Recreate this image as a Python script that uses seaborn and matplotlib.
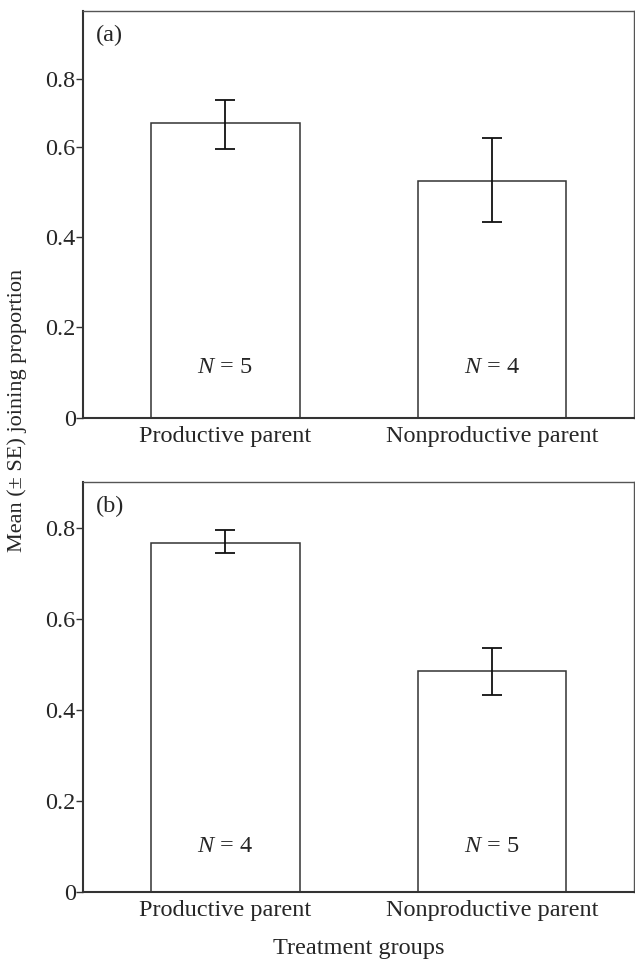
import matplotlib
matplotlib.use("Agg")
import matplotlib.pyplot as plt
import seaborn as sns
import pandas as pd

sns.set_theme(style="white")
plt.rcParams['font.family'] = ['Liberation Serif', 'DejaVu Serif']
plt.rcParams['mathtext.fontset'] = 'custom'
plt.rcParams['mathtext.it'] = 'Liberation Serif:italic'
plt.rcParams['mathtext.rm'] = 'Liberation Serif'

categories = ["Productive parent", "Nonproductive parent"]

means_a = [0.653, 0.523]
se_low_a = [0.595, 0.433]
se_high_a = [0.704, 0.620]
n_a = [5, 4]

means_b = [0.767, 0.485]
se_low_b = [0.745, 0.433]
se_high_b = [0.795, 0.535]
n_b = [4, 5]

ytick_pos_a = [0, 0.2, 0.4, 0.6, 0.75]
ytick_pos_b = [0, 0.2, 0.4, 0.6, 0.8]
ytick_labels = ["0", "0.2", "0.4", "0.6", "0.8"]
panel_labels = ["(a)", "(b)"]

FS = 17.5
W, H = 635, 959
fig = plt.figure(figsize=(W / 100, H / 100), dpi=100)

def px_axes(left, top, right, bottom):
    return fig.add_axes([left / W, 1 - bottom / H, (right - left) / W, (bottom - top) / H])

ax_a = px_axes(83.3, 11, 634, 417.7)
ax_b = px_axes(83.3, 482.3, 634, 891.7)

panels = [
    (ax_a, means_a, se_low_a, se_high_a, n_a, ytick_pos_a, 0.11),
    (ax_b, means_b, se_low_b, se_high_b, n_b, ytick_pos_b, 0.10),
]

for i, (ax, means, lo, hi, ns, yticks, ny) in enumerate(panels):
    df = pd.DataFrame({"group": categories, "mean": means})
    sns.barplot(data=df, x="group", y="mean", order=categories, ax=ax,
                width=0.558, color="white", edgecolor="#333333",
                linewidth=1.1, errorbar=None, saturation=1)
    for p in ax.patches:
        p.set_facecolor("white")
    yerr = [[m - l for m, l in zip(means, lo)], [h - m for m, h in zip(means, hi)]]
    ax.errorbar(x=list(range(len(categories))), y=means, yerr=yerr, fmt="none",
                ecolor="#111111", elinewidth=1.3, capsize=7, capthick=1.3, zorder=5)
    for j, n in enumerate(ns):
        ax.text(j, ny, r"$N$ = " + str(n), ha="center", va="center", fontsize=FS)
    ax.set_xlim(-0.531, 1.532)
    ax.set_ylim(0, 0.9)
    ax.set_yticks(yticks)
    ax.set_yticklabels(ytick_labels, fontsize=FS)
    ax.set_xticks(range(len(categories)))
    ax.set_xticklabels(categories, fontsize=FS)
    ax.set_xlabel("")
    ax.set_ylabel("")
    ax.tick_params(axis="y", direction="out", length=5, width=1.0, color="#333333", pad=0.5, left=True)
    ax.tick_params(axis="x", length=0, pad=6)
    for side in ["left", "bottom"]:
        ax.spines[side].set_color("#333333")
        ax.spines[side].set_linewidth(1.5)
    for side in ["top", "right"]:
        ax.spines[side].set_color("#555555")
        ax.spines[side].set_linewidth(1.0)
    ax.text(0.022, 0.94, panel_labels[i], transform=ax.transAxes, ha="left", va="center", fontsize=FS)

fig.text(17 / W, 1 - 410 / H, "Mean (± SE) joining proportion", rotation=90,
         ha="center", va="center", fontsize=16)
fig.text((83.3 + 634) / 2 / W, 1 - 948.3 / H, "Treatment groups", ha="center", va="center", fontsize=FS)

fig.savefig("out.png", dpi=100, facecolor="white")
